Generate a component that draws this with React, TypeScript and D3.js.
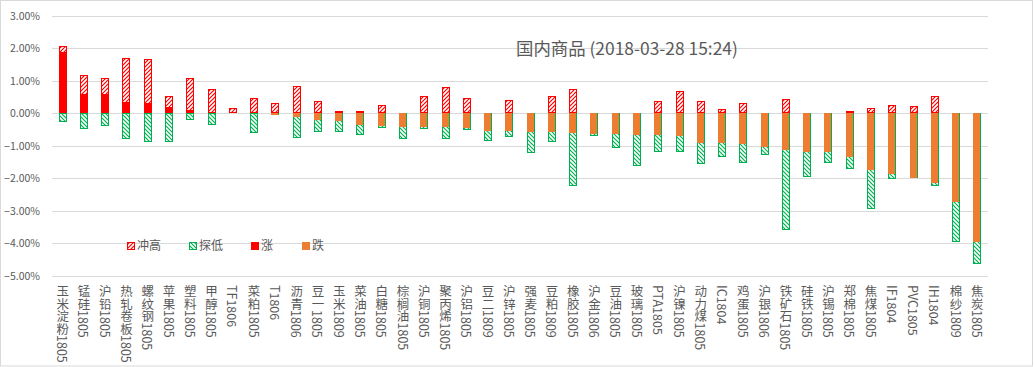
import React from 'react';
import * as d3 from 'd3';

const categories = [
  '玉米淀粉1805', '锰硅1805', '沪铅1805', '热轧卷板1805', '螺纹钢1805', '苹果1805', '塑料1805', '甲醇1805',
  'TF1806', '菜粕1805', 'T1806', '沥青1806', '豆一1805', '玉米1809', '菜油1805', '白糖1805', '棕榈油1805',
  '沪铜1805', '聚丙烯1805', '沪铝1805', '豆二1809', '沪锌1805', '强麦1805', '豆粕1809', '橡胶1805', '沪金1806',
  '豆油1805', '玻璃1805', 'PTA1805', '沪镍1805', '动力煤1805', 'IC1804', '鸡蛋1805', '沪银1806', '铁矿石1805',
  '硅铁1805', '沪锡1805', '郑棉1805', '焦煤1805', 'IF1804', 'PVC1805', 'IH1804', '棉纱1809', '焦炭1805',
];

// 冲高 (%)
const highValues = [
  2.07, 1.17, 1.08, 1.70, 1.66, 0.52, 1.08, 0.74, 0.15, 0.46, 0.31, 0.83, 0.38, 0.07, 0.07, 0.26, 0,
  0.52, 0.80, 0.46, 0, 0.41, 0, 0.52, 0.74, 0, 0, 0, 0.38, 0.69, 0.38, 0.13, 0.31, 0, 0.44,
  0, 0, 0.07, 0.15, 0.26, 0.23, 0.52, 0, 0,
];

// 探低 (%)
const lowValues = [
  -0.28, -0.49, -0.40, -0.80, -0.89, -0.89, -0.22, -0.37, 0, -0.62, -0.04, -0.77, -0.59, -0.59, -0.68, -0.46, -0.80,
  -0.49, -0.80, -0.52, -0.86, -0.74, -1.23, -0.87, -2.25, -0.71, -1.06, -1.61, -1.18, -1.18, -1.57, -1.34, -1.54, -1.27, -3.61,
  -1.95, -1.54, -1.71, -2.94, -2.01, -1.99, -2.23, -3.96, -4.64,
];

// 涨 / 跌 (%)
const changeValues = [
  1.90, 0.59, 0.59, 0.36, 0.32, 0.21, 0.10, 0.05, 0.05, 0, -0.04, -0.12, -0.20, -0.23, -0.37, -0.39, -0.41,
  -0.41, -0.41, -0.44, -0.53, -0.54, -0.58, -0.58, -0.61, -0.64, -0.64, -0.67, -0.67, -0.70, -0.91, -0.91, -0.94, -1.04, -1.13,
  -1.19, -1.19, -1.35, -1.75, -1.87, -1.99, -2.16, -2.72, -3.97,
];

const yTicks = [3, 2, 1, 0, -1, -2, -3, -4, -5];
const legendLabels = ['冲高', '探低', '涨', '跌'];
const titleText = '国内商品 (2018-03-28 15:24)';

const RED = '#FF0000';
const ORANGE = '#ED7D31';
const GREEN = '#00B050';
const TEXT = '#595959';
const GRID = '#D9D9D9';
const FONT = '"Noto Sans CJK SC", "Microsoft YaHei", sans-serif';

export default function App() {
  const W = 1034;
  const H = 367;
  const left = 52;
  const right = 988;
  const top = 16;
  const bottom = 275.5;

  const x = d3.scaleBand<string>().domain(categories).range([left, right]);
  const y = d3.scaleLinear().domain([-5, 3]).range([bottom, top]);
  const bw = 8;
  const cx = (c: string) => (x(c) as number) + x.bandwidth() / 2;
  const fmt = d3.format('.2%');

  const barSpan = (v: number) => {
    const y0 = Math.round(y(0));
    const y1 = Math.round(y(v));
    return { y: Math.min(y0, y1), h: Math.abs(y1 - y0) };
  };

  const legendX = [127, 189, 251, 302];
  const legendY = 246;

  return (
    <div style={{ position: 'absolute', left: 0, top: 0 }}>
      <style>{`body{margin:0}`}</style>
      <svg width={W} height={H} style={{ display: 'block' }}>
        <defs>
          <pattern id="hatchUp" patternUnits="userSpaceOnUse" width="4" height="4">
            <rect width="4" height="4" fill="#fff" />
            <path d="M-1,1 l2,-2 M0,4 l4,-4 M3,5 l2,-2" stroke={RED} strokeWidth="1.2" />
          </pattern>
          <pattern id="hatchDown" patternUnits="userSpaceOnUse" width="4" height="4">
            <rect width="4" height="4" fill="#fff" />
            <path d="M-1,3 l2,2 M0,0 l4,4 M3,-1 l2,2" stroke={GREEN} strokeWidth="1.2" />
          </pattern>
        </defs>
        <rect x={0.5} y={0.5} width={W - 2} height={H - 1.5} fill="#fff" stroke={GRID} />

        {yTicks.map((t) => {
          const yy = Math.round(y(t)) + 0.5;
          return (
            <g key={t}>
              <line x1={left} x2={right} y1={yy} y2={yy} stroke={GRID} strokeWidth={1} />
              <text x={40} y={yy} dy="0.35em" textAnchor="end" fontSize={10.5} fill={TEXT}
                fontFamily={FONT}>{fmt(t / 100)}</text>
            </g>
          );
        })}

        <text x={516} y={55} fontSize={17.4} fill={TEXT} fontFamily={FONT}>{titleText}</text>

        {/* 冲高 */}
        {categories.map((c, i) => {
          const v = highValues[i];
          if (!v) return null;
          const s = barSpan(v);
          return <rect key={'h' + i} x={Math.round(cx(c) - bw / 2) + 0.5} y={s.y + 0.5} width={bw - 1} height={Math.max(s.h - 1, 0)}
            fill="url(#hatchUp)" stroke={RED} strokeWidth={1} />;
        })}
        {/* 探低 */}
        {categories.map((c, i) => {
          const v = lowValues[i];
          if (!v) return null;
          const s = barSpan(v);
          return <rect key={'l' + i} x={Math.round(cx(c) - bw / 2) + 0.5} y={s.y + 0.5} width={bw - 1} height={Math.max(s.h - 1, 0)}
            fill="url(#hatchDown)" stroke={GREEN} strokeWidth={1} />;
        })}
        {/* 涨 */}
        {categories.map((c, i) => {
          const v = changeValues[i];
          if (!(v > 0)) return null;
          const s = barSpan(v);
          return <rect key={'u' + i} x={Math.round(cx(c) - bw / 2)} y={s.y} width={bw} height={Math.max(s.h, 1)} fill={RED} />;
        })}
        {/* 跌 */}
        {categories.map((c, i) => {
          const v = changeValues[i];
          if (!(v < 0)) return null;
          const s = barSpan(v);
          return <rect key={'d' + i} x={Math.round(cx(c) - bw / 2)} y={s.y} width={bw - 1} height={Math.max(s.h, 1)} fill={ORANGE} />;
        })}

        {categories.map((c) => (
          <text key={'t' + c} x={cx(c)} y={285} fontSize={12.5} fill={TEXT} fontFamily={FONT}
            style={{ writingMode: 'vertical-rl' }}>{c}</text>
        ))}

        {legendLabels.map((lab, i) => {
          const lx = legendX[i];
          const fill = i === 0 ? 'url(#hatchUp)' : i === 1 ? 'url(#hatchDown)' : i === 2 ? RED : ORANGE;
          const stroke = i === 0 ? RED : i === 1 ? GREEN : 'none';
          return (
            <g key={lab}>
              {i < 2 ? (
                <rect x={lx + 0.5} y={legendY - 4 + 0.5} width={7} height={7} fill={fill} stroke={stroke} />
              ) : (
                <rect x={lx} y={legendY - 4} width={8} height={8} fill={fill} />
              )}
              <text x={lx + 10} y={legendY} dy="0.35em" fontSize={12} fill={TEXT} fontFamily={FONT}>{lab}</text>
            </g>
          );
        })}
      </svg>
    </div>
  );
}
